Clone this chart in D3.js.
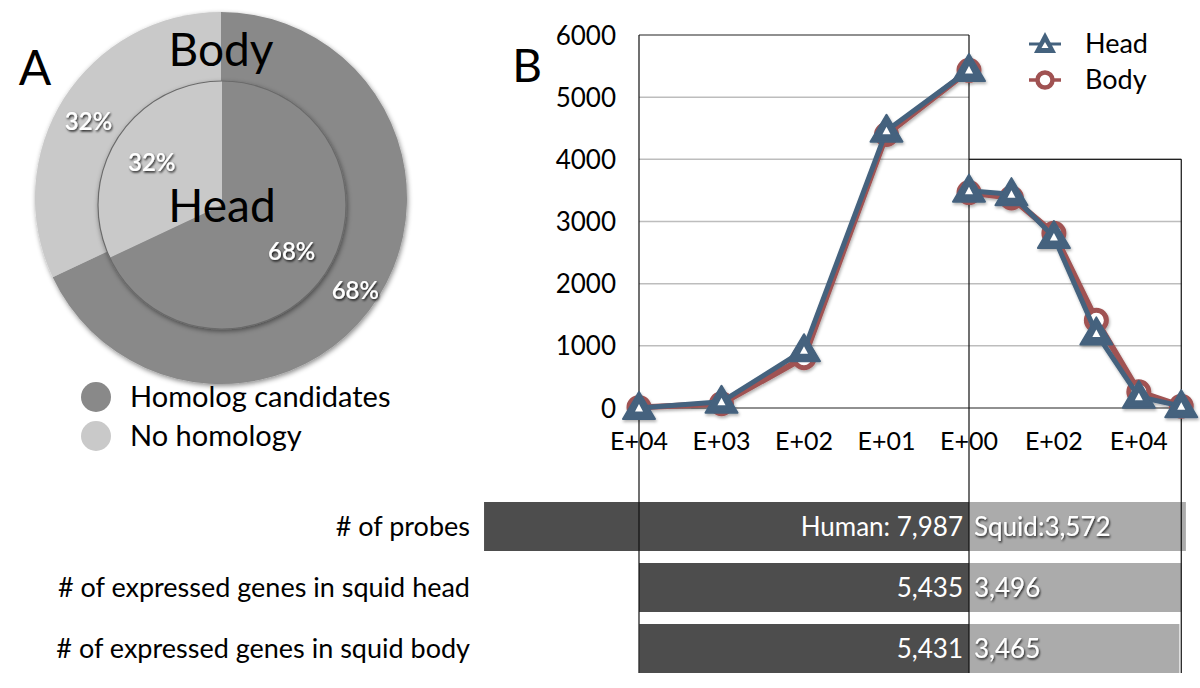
<!DOCTYPE html>
<html><head><meta charset="utf-8">
<script src="https://cdn.jsdelivr.net/npm/d3@7/dist/d3.min.js"></script>
<style>body{margin:0;background:#fff;} svg{display:block;} text{font-family:"Lato","Open Sans",sans-serif;}</style>
</head><body>
<svg id="c" width="1200" height="688"></svg>
<script>
// ---- data ----
const pieCategories = ["Homolog candidates", "No homology"];
const headPct = [68, 32];
const bodyPct = [68, 32];
const pieColors = ["#898989", "#c9c9c9"];

const yTicks = [0, 1000, 2000, 3000, 4000, 5000, 6000];
const leftTickLabels = ["E+04", "E+03", "E+02", "E+01", "E+00"];
const headLeft = [0, 100, 930, 4460, 5435];
const bodyLeft = [10, 70, 810, 4400, 5431];
const rightTickLabels = ["E+00", "E+01", "E+02", "E+03", "E+04", "E+05"];
const rightShown = ["", "", "E+02", "", "E+04", ""];
const headRight = [3496, 3440, 2750, 1200, 180, 30];
const bodyRight = [3465, 3380, 2810, 1410, 260, 30];

const barRows = ["# of probes", "# of expressed genes in squid head", "# of expressed genes in squid body"];
const humanCounts = [7987, 5435, 5431];
const squidCounts = [3572, 3496, 3465];
const humanPrefix = ["Human: ", "", ""];
const squidPrefix = ["Squid:", "", ""];

// ---- drawing ----
const svg = d3.select("#c");
const defs = svg.append("defs");
const sh = defs.append("filter").attr("id","sh").attr("x","-20%").attr("y","-20%").attr("width","140%").attr("height","140%");
sh.append("feDropShadow").attr("dx",1).attr("dy",2).attr("stdDeviation",2.5).attr("flood-color","#000").attr("flood-opacity",0.45);
const tsh = defs.append("filter").attr("id","tsh").attr("x","-20%").attr("y","-30%").attr("width","140%").attr("height","160%");
tsh.append("feDropShadow").attr("dx",1).attr("dy",1.5).attr("stdDeviation",1.2).attr("flood-color","#000").attr("flood-opacity",0.85);
const lsh = defs.append("filter").attr("id","lsh").attr("x","-10%").attr("y","-10%").attr("width","120%").attr("height","120%");
lsh.append("feDropShadow").attr("dx",1).attr("dy",2).attr("stdDeviation",1.5).attr("flood-color","#000").attr("flood-opacity",0.3);

// Panel A
const pie = d3.pie().sort(null);
const outerG = svg.append("g").attr("transform","translate(221,198)").attr("filter","url(#sh)");
const outerArc = d3.arc().innerRadius(0).outerRadius(186);
outerG.selectAll("path").data(pie(bodyPct)).join("path")
  .attr("d", outerArc).attr("fill", (d,i)=>pieColors[i]);
const innerG = svg.append("g").attr("transform","translate(222,205)").attr("filter","url(#sh)");
const innerArc = d3.arc().innerRadius(0).outerRadius(124);
innerG.selectAll("path").data(pie(headPct)).join("path")
  .attr("d", innerArc).attr("fill", (d,i)=>pieColors[i]);
innerG.append("circle").attr("r",124).attr("fill","none").attr("stroke","#6a6a6a").attr("stroke-width",1.2);

// percentage labels
const lbl = svg.append("g");
function pctText(cx, cy, r, angDeg, txt){
  const a = angDeg*Math.PI/180;
  lbl.append("text").attr("x", cx + r*Math.sin(a)).attr("y", cy - r*Math.cos(a)).attr("dy","0.35em")
   .attr("text-anchor","middle").attr("fill","#fff").attr("font-size",24).attr("font-weight",600)
   .attr("filter","url(#tsh)").text(txt);
}
pctText(221,198,153,-60, bodyPct[1] + "%");
pctText(222,205,82,-59, headPct[1] + "%");
pctText(222,205,84,124, headPct[0] + "%");
pctText(221,198,163,124.5, bodyPct[0] + "%");

svg.append("text").attr("x",221).attr("y",66).attr("text-anchor","middle").attr("font-size",46).attr("fill","#000").text("Body");
svg.append("text").attr("x",222).attr("y",222).attr("text-anchor","middle").attr("font-size",46).attr("fill","#000").text("Head");
svg.append("text").attr("x",35).attr("y",85).attr("text-anchor","middle").attr("font-size",48).attr("fill","#000").text("A");

// legend A
const legA = svg.append("g");
pieCategories.forEach((c,i)=>{
  legA.append("circle").attr("cx",96).attr("cy",397+i*39).attr("r",15).attr("fill",pieColors[i]);
  legA.append("text").attr("x",130).attr("y",397+i*39).attr("dy","0.35em").attr("font-size",29).attr("fill","#000").text(c);
});

// Panel B
const center = 969;
const k = d3.scaleLinear().domain([0, 5435]).range([0, 330]);
const xLeft = d3.scaleLinear().domain([0, leftTickLabels.length-1]).range([center - k(humanCounts[1]), center]);
const xRight = d3.scaleLinear().domain([0, rightTickLabels.length-1]).range([center, center + k(squidCounts[1])]);
const y = d3.scaleLinear().domain([0, 6000]).range([408, 35]);
const L = xLeft.range()[0], R = xRight.range()[1];

svg.append("text").attr("x",527).attr("y",82).attr("text-anchor","middle").attr("font-size",46).attr("fill","#000").text("B");

// gridlines
const grid = svg.append("g");
yTicks.filter(t=>t>0 && t<6000).forEach(t=>{
  const x2 = (t===5000) ? center : R;
  grid.append("line").attr("x1",L).attr("x2",x2).attr("y1",y(t)).attr("y2",y(t))
    .attr("stroke", "#bdbdbd").attr("stroke-width",1.5);
});
grid.append("line").attr("x1",L).attr("x2",center).attr("y1",y(6000)).attr("y2",y(6000)).attr("stroke","#222").attr("stroke-width",1.2);
grid.append("line").attr("x1",center).attr("x2",R).attr("y1",y(4000)).attr("y2",y(4000)).attr("stroke","#222").attr("stroke-width",1.2);
grid.append("line").attr("x1",L).attr("x2",R).attr("y1",y(0)).attr("y2",y(0)).attr("stroke","#222").attr("stroke-width",1.2);

// y axis labels
const yAxis = d3.axisLeft(y).tickValues(yTicks).tickSize(0).tickPadding(0).tickFormat(d3.format("d"));
const ya = svg.append("g").attr("transform","translate(616,0)").call(yAxis);
ya.select(".domain").remove();
ya.selectAll("text").attr("font-size",26).attr("fill","#000").attr("font-family","Lato, sans-serif").attr("dy","0.35em");

// x labels
const xl = svg.append("g");
leftTickLabels.forEach((t,i)=>{
  xl.append("text").attr("x",xLeft(i)).attr("y",441).attr("dy","0.35em").attr("text-anchor","middle").attr("font-size",25).attr("fill","#000").text(t);
});
rightShown.forEach((t,i)=>{
  if(!t) return;
  xl.append("text").attr("x",xRight(i)).attr("y",441).attr("dy","0.35em").attr("text-anchor","middle").attr("font-size",25).attr("fill","#000").text(t);
});

// bars
const barTop = [502, 563, 624];
const barH = 49;
const bars = svg.append("g");
barRows.forEach((r,i)=>{
  bars.append("rect").attr("x",center - k(humanCounts[i])).attr("y",barTop[i]).attr("width",k(humanCounts[i])).attr("height",barH).attr("fill","#4d4d4d");
  bars.append("rect").attr("x",center).attr("y",barTop[i]).attr("width",k(squidCounts[i])).attr("height",barH).attr("fill","#ababab");
  bars.append("text").attr("x",center-6).attr("y",barTop[i]+barH/2).attr("dy","0.35em").attr("text-anchor","end")
    .attr("font-size",26).attr("fill","#fff").text(humanPrefix[i] + d3.format(",")(humanCounts[i]));
  bars.append("text").attr("x",center+5).attr("y",barTop[i]+barH/2).attr("dy","0.35em").attr("text-anchor","start")
    .attr("font-size",26).attr("fill","#fff").attr("filter","url(#tsh)").text(squidPrefix[i] + d3.format(",")(squidCounts[i]));
  bars.append("text").attr("x",470).attr("y",barTop[i]+barH/2).attr("dy","0.35em").attr("text-anchor","end")
    .attr("font-size",27).attr("fill","#000").text(r);
});

// vertical lines
const vl = svg.append("g");
vl.append("line").attr("x1",L).attr("x2",L).attr("y1",y(6000)).attr("y2",673).attr("stroke","#111").attr("stroke-width",1.2);
vl.append("line").attr("x1",center).attr("x2",center).attr("y1",y(6000)).attr("y2",673).attr("stroke","#111").attr("stroke-width",1.2);
vl.append("line").attr("x1",R).attr("x2",R).attr("y1",y(4000)).attr("y2",673).attr("stroke","#111").attr("stroke-width",1.2);

// lines
const headCol = "#44627e", bodyCol = "#a05252";
const lineL = d3.line().x((d,i)=>xLeft(i)).y(d=>y(d));
const lineR = d3.line().x((d,i)=>xRight(i)).y(d=>y(d));
const lg = svg.append("g").attr("filter","url(#lsh)");
[ [bodyLeft, lineL], [bodyRight, lineR] ].forEach(([d,l])=>{
  lg.append("path").attr("d", l(d)).attr("fill","none").attr("stroke",bodyCol).attr("stroke-width",6).attr("stroke-linejoin","round");
});
function bodyMarks(data, xs){
  lg.selectAll(null).data(data).join("circle").attr("cx",(d,i)=>xs(i)).attr("cy",d=>y(d)).attr("r",10)
    .attr("fill","#fff").attr("stroke",bodyCol).attr("stroke-width",5);
}
bodyMarks(bodyLeft, xLeft); bodyMarks(bodyRight, xRight);
[ [headLeft, lineL], [headRight, lineR] ].forEach(([d,l])=>{
  lg.append("path").attr("d", l(d)).attr("fill","none").attr("stroke",headCol).attr("stroke-width",5).attr("stroke-linejoin","round");
});
const triOuter = "M0,-16 L16,11 L-16,11 Z";
const triInner = "M0,-4 L4,3.5 L-4,3.5 Z";
function headMarks(data, xs){
  const g = lg.selectAll(null).data(data).join("g").attr("transform",(d,i)=>`translate(${xs(i)},${y(d)})`);
  g.append("path").attr("d",triOuter).attr("fill",headCol).attr("stroke",headCol).attr("stroke-width",2).attr("stroke-linejoin","round");
  g.append("path").attr("d",triInner).attr("fill","#fff");
}
headMarks(headLeft, xLeft); headMarks(headRight, xRight);

// legend B
const legB = svg.append("g");
const lh = legB.append("g").attr("transform","translate(1045,44)");
lh.append("line").attr("x1",-16).attr("x2",16).attr("stroke",headCol).attr("stroke-width",3);
lh.append("path").attr("d","M0,-12 L11,9 L-11,9 Z").attr("fill",headCol);
lh.append("path").attr("d","M0,-2 L3.5,4 L-3.5,4 Z").attr("fill","#fff");
legB.append("text").attr("x",1085).attr("y",44).attr("dy","0.35em").attr("font-size",27).attr("fill","#000").text("Head");
const lb = legB.append("g").attr("transform","translate(1045,80)");
lb.append("line").attr("x1",-16).attr("x2",16).attr("stroke",bodyCol).attr("stroke-width",3.5);
lb.append("circle").attr("r",7.5).attr("fill","#fff").attr("stroke",bodyCol).attr("stroke-width",4.5);
legB.append("text").attr("x",1085).attr("y",80).attr("dy","0.35em").attr("font-size",27).attr("fill","#000").text("Body");
</script>
</body></html>
